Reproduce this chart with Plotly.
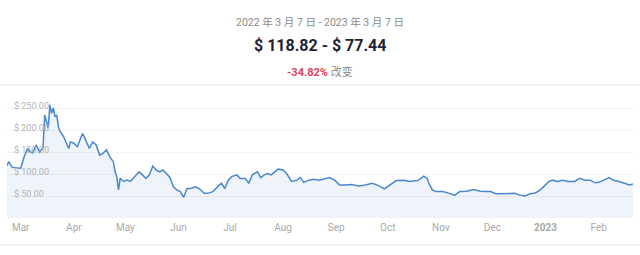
import plotly.graph_objects as go

dates = [
    "2022-03-07", "2022-03-08", "2022-03-10", "2022-03-15", "2022-03-17", "2022-03-19",
    "2022-03-20", "2022-03-22", "2022-03-24", "2022-03-26", "2022-03-28", "2022-03-29",
    "2022-03-31", "2022-04-01", "2022-04-02", "2022-04-03", "2022-04-04", "2022-04-05",
    "2022-04-06", "2022-04-07", "2022-04-09", "2022-04-10", "2022-04-12", "2022-04-13",
    "2022-04-15", "2022-04-17", "2022-04-18", "2022-04-20", "2022-04-21", "2022-04-22",
    "2022-04-24", "2022-04-26", "2022-04-28", "2022-04-30", "2022-05-02", "2022-05-04",
    "2022-05-06", "2022-05-08", "2022-05-09", "2022-05-10", "2022-05-11", "2022-05-12",
    "2022-05-14", "2022-05-16", "2022-05-18", "2022-05-20", "2022-05-23", "2022-05-25",
    "2022-05-27", "2022-05-29", "2022-05-31", "2022-06-02", "2022-06-04", "2022-06-06",
    "2022-06-08", "2022-06-10", "2022-06-12", "2022-06-14", "2022-06-16", "2022-06-17",
    "2022-06-18", "2022-06-20", "2022-06-22", "2022-06-25", "2022-06-27", "2022-06-30",
    "2022-07-02", "2022-07-05", "2022-07-08", "2022-07-10", "2022-07-12", "2022-07-14",
    "2022-07-16", "2022-07-19", "2022-07-21", "2022-07-24", "2022-07-26", "2022-07-28",
    "2022-07-31", "2022-08-02", "2022-08-04", "2022-08-06", "2022-08-08", "2022-08-10",
    "2022-08-12", "2022-08-15", "2022-08-17", "2022-08-20", "2022-08-23", "2022-08-25",
    "2022-08-27", "2022-08-30", "2022-09-02", "2022-09-05", "2022-09-11", "2022-09-14",
    "2022-09-17", "2022-09-20", "2022-09-24", "2022-09-28", "2022-10-02", "2022-10-06",
    "2022-10-10", "2022-10-13", "2022-10-16", "2022-10-20", "2022-10-24", "2022-10-28",
    "2022-11-01", "2022-11-02", "2022-11-05", "2022-11-07", "2022-11-08", "2022-11-10",
    "2022-11-12", "2022-11-16", "2022-11-20", "2022-11-23", "2022-11-26", "2022-11-30",
    "2022-12-04", "2022-12-08", "2022-12-11", "2022-12-14", "2022-12-17", "2022-12-21",
    "2022-12-25", "2022-12-28", "2022-12-31", "2023-01-03", "2023-01-06", "2023-01-09",
    "2023-01-12", "2023-01-15", "2023-01-17", "2023-01-19", "2023-01-22", "2023-01-25",
    "2023-01-28", "2023-02-01", "2023-02-04", "2023-02-07", "2023-02-10", "2023-02-13",
    "2023-02-15", "2023-02-18", "2023-02-21", "2023-02-24", "2023-02-27", "2023-03-02",
    "2023-03-05", "2023-03-07",
]

prices = [
    118.82, 128, 115, 113, 139, 158,
    152, 148, 166, 150, 160, 234,
    204, 257, 238, 250, 230, 234,
    207, 196, 185, 177, 158, 173,
    170, 162, 173, 192, 185, 177,
    158, 173, 166, 143, 147, 155,
    139, 128, 105, 94, 64, 90,
    83, 86, 83, 92, 105, 98,
    90, 98, 118, 109, 105, 109,
    101, 92, 71, 64, 60, 52,
    47, 67, 67, 71, 67, 56,
    56, 60, 71, 79, 67, 86,
    94, 98, 90, 90, 79, 98,
    105, 92, 98, 101, 98, 105,
    111, 109, 101, 83, 86, 92,
    81, 86, 88, 86, 92, 86,
    75, 75, 76, 73, 75, 79,
    73, 66, 75, 85, 86, 83,
    85, 86, 95, 90, 79, 64,
    60, 60, 56, 52, 60, 61,
    65, 61, 60, 60, 55, 55,
    55, 56, 52, 50, 55, 57,
    64, 75, 83, 86, 83, 86,
    83, 83, 90, 86, 86, 80,
    81, 86, 92, 85, 83, 79,
    75, 77.44,
]

month_tick_dates = ["2022-03-15", "2022-04-15", "2022-05-15", "2022-06-15", "2022-07-15",
                    "2022-08-15", "2022-09-15", "2022-10-15", "2022-11-15", "2022-12-15",
                    "2023-01-15", "2023-02-15"]
month_tick_labels = ["Mar", "Apr", "May", "Jun", "Jul", "Aug", "Sep", "Oct", "Nov", "Dec",
                     "<b>2023</b>", "Feb"]
y_tick_values = [50, 100, 150, 200, 250]
y_tick_labels = ["$ 50.00", "$ 100.00", "$ 150.00", "$ 200.00", "$ 250.00"]

title_range = "2022 年 3 月 7 日 - 2023 年 3 月 7 日"
title_prices = "$ 118.82 - $ 77.44"
change_pct = "-34.82%"
change_word = "改变"

W, H = 640, 255
L, R, T, B = 7, 7, 86, 37
PH = H - T - B


def py(pix):
    return (H - B - pix) / PH


FONT = "Roboto, 'Noto Sans CJK SC', sans-serif"

fig = go.Figure()
fig.add_trace(go.Scatter(
    x=dates, y=prices, mode="lines",
    line=dict(color="#4a87cc", width=1.5),
    fill="tozeroy", fillcolor="rgba(74,135,204,0.09)",
    hoverinfo="skip",
))

fig.update_layout(
    width=W, height=H,
    margin=dict(l=L, r=R, t=T, b=B),
    paper_bgcolor="white", plot_bgcolor="white",
    showlegend=False,
    font=dict(family=FONT),
    xaxis=dict(
        range=["2022-03-07", "2023-03-07"],
        tickvals=month_tick_dates, ticktext=month_tick_labels,
        showgrid=False, zeroline=False, showline=False, ticks="",
        tickfont=dict(size=10, color="#a9a9a9"),
        ticklabelstandoff=2, ticklabeloverflow="allow",
    ),
    yaxis=dict(
        range=[0, 300],
        tickvals=y_tick_values, ticktext=y_tick_labels,
        ticklabelposition="inside",
        ticklabelstandoff=4, ticklabelshift=-2,
        ticklabeloverflow="allow",
        showgrid=True, gridcolor="#f3f3f3", gridwidth=1,
        zeroline=False, showline=False, ticks="",
        tickfont=dict(size=9, color="#b3b3b3"),
    ),
    annotations=[
        dict(text=title_range, x=0.5, y=py(22.5), xref="paper", yref="paper",
             showarrow=False, font=dict(size=10.5, color="#8a8a8a", family=FONT),
             xanchor="center", yanchor="middle"),
        dict(text="<b>" + title_prices + "</b>", x=0.5, y=py(45), xref="paper", yref="paper",
             showarrow=False, font=dict(size=16, color="#1e2433", family=FONT),
             xanchor="center", yanchor="middle"),
        dict(text="<b><span style='color:#e0435a'>" + change_pct + "</span></b> " + change_word,
             x=0.5, y=py(72), xref="paper", yref="paper",
             showarrow=False, font=dict(size=11, color="#8a8a8a", family=FONT),
             xanchor="center", yanchor="middle"),
    ],
    shapes=[
        dict(type="line", xref="paper", yref="paper", x0=-L / (W - L - R), x1=1 + R / (W - L - R),
             y0=py(85), y1=py(85), line=dict(color="#f3f3f3", width=2)),
        dict(type="line", xref="paper", yref="paper", x0=-L / (W - L - R), x1=1 + R / (W - L - R),
             y0=py(245), y1=py(245), line=dict(color="#f1f1f1", width=2)),
    ],
)

fig.write_html("out.html")
